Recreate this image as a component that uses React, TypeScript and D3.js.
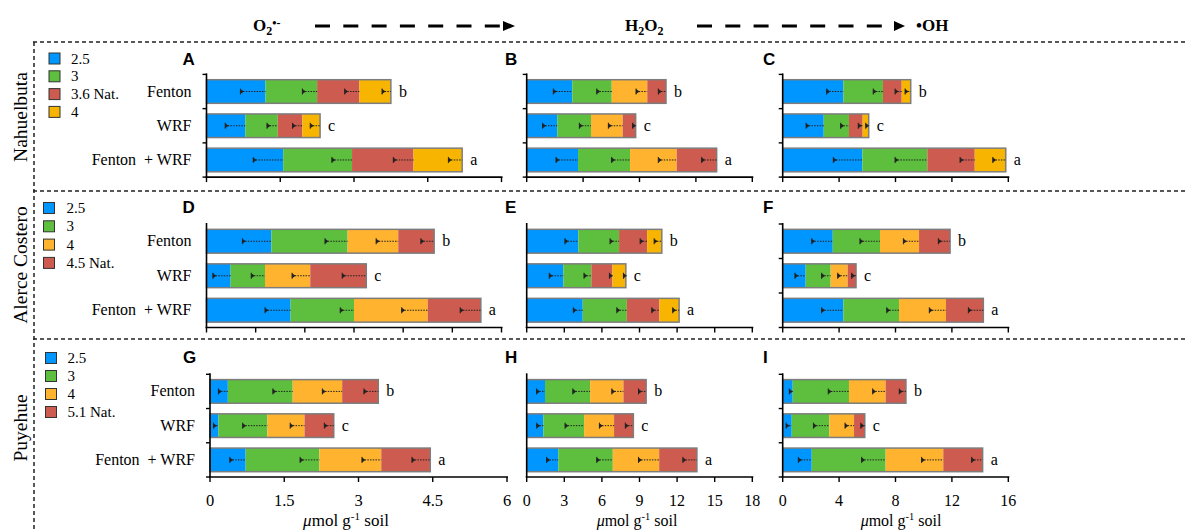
import React from "react";
import * as d3 from "d3";

// ---------- DATA ----------
const categories = ["Fenton", "WRF", "Fenton  + WRF"];
const sigLetters = ["b", "c", "a"];
const siteNames = ["Nahuelbuta", "Alerce Costero", "Puyehue"];
const panelLetters = ["A", "B", "C", "D", "E", "F", "G", "H", "I"];

const seriesNahuelbuta = ["2.5", "3", "3.6 Nat.", "4"];
const seriesAlerce = ["2.5", "3", "4", "4.5 Nat."];
const seriesPuyehue = ["2.5", "3", "4", "5.1 Nat."];

// Row 1 (Nahuelbuta)
const valuesA = [[1.2, 1.05, 0.86, 0.64], [0.79, 0.66, 0.5, 0.36], [1.56, 1.4, 1.25, 0.99]];
const errorsA = [[0.51, 0.3, 0.3, 0.18], [0.41, 0.22, 0.2, 0.2], [0.61, 0.41, 0.41, 0.28]];
const valuesB = [[4.04, 3.5, 3.15, 1.66], [2.71, 2.99, 2.81, 1.15], [4.55, 4.61, 4.14, 3.54]];
const errorsB = [[1.68, 1.33, 1.0, 0.68], [1.3, 1.03, 1.27, 0.27], [1.95, 1.63, 1.63, 1.33]];
const valuesC = [[4.3, 2.81, 1.33, 0.64], [2.91, 1.79, 0.97, 0.43], [5.65, 4.61, 3.36, 2.2]];
const errorsC = [[1.18, 0.69, 0.47, 0.4], [1.25, 0.59, 0.31, 0.21], [2.06, 2.29, 1.04, 0.92]];
// Row 2 (Alerce Costero)
const valuesD = [[1.32, 1.55, 1.03, 0.73], [0.49, 0.7, 0.92, 1.14], [1.71, 1.29, 1.5, 1.08]];
const errorsD = [[0.59, 0.46, 0.45, 0.27], [0.36, 0.28, 0.37, 0.49], [0.52, 0.28, 0.53, 0.42]];
const valuesE = [[4.12, 3.25, 2.24, 1.17], [2.92, 2.24, 1.68, 1.07], [4.47, 3.52, 2.6, 1.57]];
const errorsE = [[1.07, 0.72, 0.56, 0.61], [1.12, 0.59, 0.24, 0.19], [0.75, 0.8, 0.61, 0.51]];
const valuesF = [[3.55, 3.35, 2.77, 2.2], [1.63, 1.77, 1.21, 0.59], [4.3, 3.95, 3.33, 2.65]];
const errorsF = [[1.49, 1.42, 1.11, 0.83], [0.76, 0.64, 0.71, 0.31], [1.54, 0.87, 1.18, 1.06]];
// Row 3 (Puyehue)
const valuesG = [[0.36, 1.31, 1.0, 0.73], [0.17, 0.99, 0.75, 0.59], [0.72, 1.49, 1.25, 0.99]];
const errorsG = [[0.19, 0.4, 0.4, 0.29], [0.1, 0.5, 0.29, 0.19], [0.32, 0.39, 0.39, 0.37]];
const valuesH = [[1.46, 3.6, 2.66, 1.81], [1.33, 3.25, 2.39, 1.54], [2.52, 4.35, 3.7, 3.01]];
const errorsH = [[0.67, 1.38, 0.93, 0.61], [0.53, 1.52, 1.17, 0.64], [0.93, 1.28, 1.65, 1.12]];
const valuesI = [[0.71, 3.99, 2.6, 1.44], [0.64, 2.67, 1.75, 0.76], [2.06, 5.24, 4.09, 2.79]];
const errorsI = [[0.24, 1.47, 0.92, 0.47], [0.4, 1.13, 0.64, 0.28], [0.95, 1.7, 1.54, 0.78]];

const ticksA = [0, 1.5, 3, 4.5, 6];
const ticksB = [0, 5, 10, 15, 20];
const ticksC = [0, 4, 8, 12, 16];
const ticksD = [0, 1, 2, 3, 4, 5, 6];
const ticksE = [0, 3, 6, 9, 12, 15, 18];
const ticksF = [0, 4, 8, 12, 16];
const ticksG = [0, 1.5, 3, 4.5, 6];
const ticksH = [0, 3, 6, 9, 12, 15, 18];
const ticksI = [0, 4, 8, 12, 16];

// ---------- STYLE ----------
const BLUE = "#0096FF";
const GREEN = "#5DBF3D";
const RED = "#CD5B4F";
const YELLOW = "#F7B400";
const ORANGE = "#FFB32E";
const SERIF = "'Liberation Serif', 'Times New Roman', serif";
const SANS = "'Liberation Sans', Arial, sans-serif";

const colsRed4 = [BLUE, GREEN, RED, YELLOW];
const colsOrange3 = [BLUE, GREEN, ORANGE, RED];

type PanelSpec = {
  values: number[][];
  errors: number[][];
  ticks: number[];
  colors: string[];
  x0: number;
  x1: number;
  y0: number;
  y1: number;
  yTicks: boolean;
  catLabels: boolean;
  tickLabels: boolean;
  tickFont: number;
  titleFont: number;
  titleX: number;
  letter: string;
  letterX: number;
  letterY: number;
};

function Panel({ p }: { p: PanelSpec }) {
  const x = d3.scaleLinear().domain([p.ticks[0], p.ticks[p.ticks.length - 1]]).range([p.x0, p.x1]);
  const y = d3.scaleBand<string>().domain(categories).range([p.y0, p.y1]).paddingInner(0.31).paddingOuter(0.155);
  const bw = y.bandwidth();
  const bandEdges = [p.y0, ...categories.slice(1).map((c) => (y(c) as number) - (y.step() - bw) / 2), p.y1];
  return (
    <g>
      <text x={p.letterX} y={p.letterY} fontFamily={SANS} fontWeight="bold" fontSize={17}>
        {p.letter}
      </text>
      {categories.map((cat, j) => {
        const vals = p.values[j];
        const cum = d3.cumsum(vals);
        const yy = y(cat) as number;
        const cy = yy + bw / 2;
        const total = cum[cum.length - 1];
        return (
          <g key={cat}>
            {vals.map((v, i) => {
              const start = i === 0 ? 0 : cum[i - 1];
              return (
                <rect key={i} x={x(start)} y={yy} width={x(cum[i]) - x(start)} height={bw} fill={p.colors[i]} />
              );
            })}
            <rect x={x(0)} y={yy} width={x(total) - x(0)} height={bw} fill="none" stroke="#7d7d7d" strokeWidth={1.5} />
            {cum.slice(0, -1).map((c, i) => (
              <line key={"d" + i} x1={x(c)} x2={x(c)} y1={yy} y2={yy + bw} stroke="#1a1a1a" strokeWidth={1.5} />
            ))}
            {vals.map((v, i) => {
              const end = cum[i];
              const left = x(end - p.errors[j][i]);
              return (
                <g key={"e" + i}>
                  <line x1={left} x2={x(end)} y1={cy} y2={cy} stroke="#222" strokeWidth={1} strokeDasharray="1.5,1.2" />
                  <line x1={left} x2={left} y1={cy - 3} y2={cy + 3} stroke="#222" strokeWidth={1} />
                  <path d={`M${left},${cy - 2.5}L${left + 3.5},${cy}L${left},${cy + 2.5}Z`} fill="#222" />
                </g>
              );
            })}
            <text x={x(total) + 8} y={cy + 5} fontFamily={SERIF} fontSize={16}>
              {sigLetters[j]}
            </text>
            {p.catLabels && (
              <text x={p.x0 - 15} y={cy + 5} textAnchor="end" fontFamily={SERIF} fontSize={16} style={{ whiteSpace: "pre" }}>
                {cat}
              </text>
            )}
          </g>
        );
      })}
      {/* y axis */}
      <line x1={p.x0} x2={p.x0} y1={p.y0 - 1} y2={p.y1} stroke="#000" strokeWidth={1.6} />
      {p.yTicks &&
        bandEdges.map((e, i) => <line key={"yt" + i} x1={p.x0 - 4} x2={p.x0} y1={e} y2={e} stroke="#000" strokeWidth={1.4} />)}
      {/* x axis */}
      <line x1={p.x0 - 1} x2={p.x1 + 1} y1={p.y1} y2={p.y1} stroke="#000" strokeWidth={1.6} />
      {p.ticks.map((t) => (
        <g key={"xt" + t}>
          <line x1={x(t)} x2={x(t)} y1={p.y1} y2={p.y1 + 5} stroke="#000" strokeWidth={1.4} />
          {p.tickLabels && (
            <text x={x(t)} y={506} textAnchor="middle" fontFamily={SERIF} fontSize={p.tickFont}>
              {String(t)}
            </text>
          )}
        </g>
      ))}
      {p.tickLabels && (
        <text x={p.titleX} y={526} textAnchor="middle" fontFamily={SERIF} fontSize={p.titleFont}>
          <tspan fontStyle="italic">μ</tspan>
          <tspan>mol g</tspan>
          <tspan dy={-6} fontSize={p.titleFont * 0.65}>-1</tspan>
          <tspan dy={6}> soil</tspan>
        </text>
      )}
    </g>
  );
}

function Legend({ labels, colors, x, y, step, textX }: { labels: string[]; colors: string[]; x: number; y: number; step: number; textX: number }) {
  return (
    <g>
      {labels.map((l, i) => (
        <g key={l}>
          <rect x={x} y={y + i * step} width={11} height={11} fill={colors[i]} stroke="#333" strokeWidth={1} />
          <text x={textX} y={y + i * step + 10.5} fontFamily={SERIF} fontSize={15}>
            {l}
          </text>
        </g>
      ))}
    </g>
  );
}

export default function App() {
  const col1 = { x0: 206.5, x1: 501.5 };
  const col1b = { x0: 210, x1: 507 };
  const col2 = { x0: 526.7, x1: 752.3 };
  const col3 = { x0: 782.7, x1: 1008.3 };
  const row1 = { y0: 74.4, y1: 177.1, ly: 65 };
  const row2 = { y0: 224, y1: 327.5, ly: 213 };
  const row3 = { y0: 374.3, y1: 477, ly: 363 };
  const base = { tickFont: 16, titleFont: 16, titleX: 0 };
  const panels: PanelSpec[] = [
    { ...base, ...col1, ...row1, values: valuesA, errors: errorsA, ticks: ticksA, colors: colsRed4, yTicks: true, catLabels: true, tickLabels: false, letter: panelLetters[0], letterX: 182.5, letterY: row1.ly },
    { ...base, ...col2, ...row1, values: valuesB, errors: errorsB, ticks: ticksB, colors: colsOrange3, yTicks: true, catLabels: false, tickLabels: false, letter: panelLetters[1], letterX: 505, letterY: row1.ly },
    { ...base, ...col3, ...row1, values: valuesC, errors: errorsC, ticks: ticksC, colors: colsRed4, yTicks: true, catLabels: false, tickLabels: false, letter: panelLetters[2], letterX: 763, letterY: row1.ly },
    { ...base, ...col1, ...row2, values: valuesD, errors: errorsD, ticks: ticksD, colors: colsOrange3, yTicks: false, catLabels: true, tickLabels: false, letter: panelLetters[3], letterX: 182.5, letterY: row2.ly },
    { ...base, ...col2, ...row2, values: valuesE, errors: errorsE, ticks: ticksE, colors: colsRed4, yTicks: false, catLabels: false, tickLabels: false, letter: panelLetters[4], letterX: 505, letterY: row2.ly },
    { ...base, ...col3, ...row2, values: valuesF, errors: errorsF, ticks: ticksF, colors: colsOrange3, yTicks: true, catLabels: false, tickLabels: false, letter: panelLetters[5], letterX: 763, letterY: row2.ly },
    { ...base, ...col1b, ...row3, values: valuesG, errors: errorsG, ticks: ticksG, colors: colsOrange3, yTicks: true, catLabels: true, tickLabels: true, tickFont: 16.5, titleFont: 17, titleX: 346, letter: panelLetters[6], letterX: 183, letterY: row3.ly },
    { ...base, ...col2, ...row3, values: valuesH, errors: errorsH, ticks: ticksH, colors: colsOrange3, yTicks: false, catLabels: false, tickLabels: true, tickFont: 16, titleFont: 16, titleX: 637, letter: panelLetters[7], letterX: 505, letterY: row3.ly },
    { ...base, ...col3, ...row3, values: valuesI, errors: errorsI, ticks: ticksI, colors: colsOrange3, yTicks: true, catLabels: false, tickLabels: true, tickFont: 16, titleFont: 16, titleX: 901, letter: panelLetters[8], letterX: 763, letterY: row3.ly },
  ];

  const dashed = { stroke: "#222", strokeWidth: 1.5, strokeDasharray: "4,3" };
  const arrowDash = { stroke: "#000", strokeWidth: 3, strokeDasharray: "15,13.3" };

  return (
    <svg width={1188} height={532} style={{ position: "absolute", left: 0, top: 0, background: "#fff" }}>
      <rect width={1188} height={532} fill="#fff" />
      {/* header */}
      <text x={253} y={31} fontFamily={SERIF} fontWeight="bold" fontSize={17}>
        O<tspan dy={4} fontSize={12}>2</tspan>
        <tspan dy={-8} fontSize={12}>•-</tspan>
      </text>
      <line x1={315} x2={500} y1={26} y2={26} {...arrowDash} />
      <path d="M503,21L515,26L503,31Z" fill="#000" />
      <text x={625} y={31} fontFamily={SERIF} fontWeight="bold" fontSize={17}>
        H<tspan dy={4} fontSize={12}>2</tspan>
        <tspan dy={-4}>O</tspan>
        <tspan dy={4} fontSize={12}>2</tspan>
      </text>
      <line x1={697} x2={885} y1={26} y2={26} {...arrowDash} />
      <path d="M894,21L905,26L894,31Z" fill="#000" />
      <text x={916} y={31} fontFamily={SERIF} fontWeight="bold" fontSize={17}>
        •OH
      </text>

      {/* frame */}
      <line x1={33} x2={1188} y1={42} y2={42} {...dashed} />
      <line x1={33} x2={1188} y1={191} y2={191} {...dashed} />
      <line x1={33} x2={1188} y1={339} y2={339} {...dashed} />
      <line x1={34} x2={34} y1={42} y2={532} {...dashed} />

      {/* site labels */}
      {siteNames.map((s, i) => (
        <text
          key={s}
          transform={`translate(27,${[117, 265, 428][i]}) rotate(-90)`}
          textAnchor="middle"
          fontFamily={SERIF}
          fontSize={19.5}
        >
          {s}
        </text>
      ))}

      <Legend labels={seriesNahuelbuta} colors={colsRed4} x={49} y={53} step={17.8} textX={71} />
      <Legend labels={seriesAlerce} colors={colsOrange3} x={43.5} y={202.5} step={18.3} textX={66.5} />
      <Legend labels={seriesPuyehue} colors={colsOrange3} x={45.5} y={352.5} step={18} textX={67.5} />

      {panels.map((p) => (
        <Panel key={p.letter} p={p} />
      ))}
    </svg>
  );
}
